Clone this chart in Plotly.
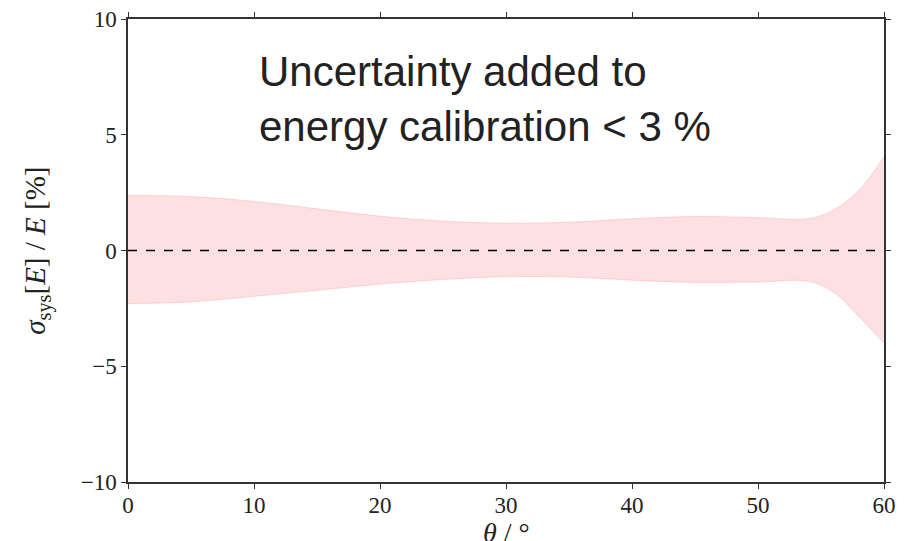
import plotly.graph_objects as go

theta = [0, 5, 10, 15, 20, 25, 30, 35, 40, 45, 50, 54, 56, 58, 60]
upper = [2.38, 2.33, 2.12, 1.80, 1.48, 1.27, 1.18, 1.22, 1.37, 1.47, 1.42, 1.38, 1.75, 2.60, 4.05]
lower = [-2.29, -2.22, -1.98, -1.72, -1.45, -1.25, -1.13, -1.15, -1.28, -1.38, -1.36, -1.33, -1.80, -2.85, -4.00]

x_ticks = [0, 10, 20, 30, 40, 50, 60]
y_ticks = [-10, -5, 0, 5, 10]
y_tick_labels = ["\u221210", "\u22125", "0", "5", "10"]

band_line = "rgba(255,170,170,0.6)"
band_fill = "rgba(253,222,223,0.9)"

fig = go.Figure()
fig.add_trace(go.Scatter(x=theta, y=lower, mode="lines",
                         line=dict(color=band_line, width=0.8, shape="spline", smoothing=1.0),
                         hoverinfo="skip", showlegend=False))
fig.add_trace(go.Scatter(x=theta, y=upper, mode="lines", fill="tonexty", fillcolor=band_fill,
                         line=dict(color=band_line, width=0.8, shape="spline", smoothing=1.0),
                         hoverinfo="skip", showlegend=False))
fig.add_trace(go.Scatter(x=[theta[0], theta[-1]], y=[0, 0], mode="lines",
                         line=dict(color="black", width=1.3, dash="dash"),
                         hoverinfo="skip", showlegend=False))

serif = "Liberation Serif, DejaVu Serif, serif"
axis_common = dict(showline=True, linecolor="#333333", linewidth=1.5, mirror="ticks",
                   ticks="outside", ticklen=5, tickwidth=1, tickcolor="#333333",
                   showgrid=False, zeroline=False, automargin=False,
                   ticklabeloverflow="allow",
                   tickfont=dict(family=serif, size=23, color="#222222"))

fig.update_layout(
    width=909, height=533,
    margin=dict(l=120, r=33, t=11, b=59),
    paper_bgcolor="white", plot_bgcolor="white",
    xaxis=dict(range=[0, 60], tickvals=x_ticks, ticklabelstandoff=-3, **axis_common),
    yaxis=dict(range=[-10, 10], tickvals=y_ticks, ticktext=y_tick_labels, **axis_common),
    annotations=[
        dict(text="Uncertainty added to<br>energy calibration < 3 %",
             xref="paper", yref="paper", x=0.171, y=0.942,
             xanchor="left", yanchor="top", align="left", showarrow=False,
             font=dict(family="Liberation Sans, Arial, sans-serif", size=42, color="#222222")),
        dict(text="<i>θ</i> / °", xref="paper", yref="paper", x=0.5, y=-0.11,
             xanchor="center", yanchor="middle", showarrow=False,
             font=dict(family=serif, size=28, color="#222222")),
        dict(text="<i>σ</i><sub>sys</sub>[<i>E</i>] / <i>E</i> [%]", xref="paper", yref="paper",
             x=-0.12, y=0.5, xanchor="center", yanchor="middle", textangle=-90, showarrow=False,
             font=dict(family=serif, size=29, color="#222222")),
    ],
)

fig.write_html("out.html")
